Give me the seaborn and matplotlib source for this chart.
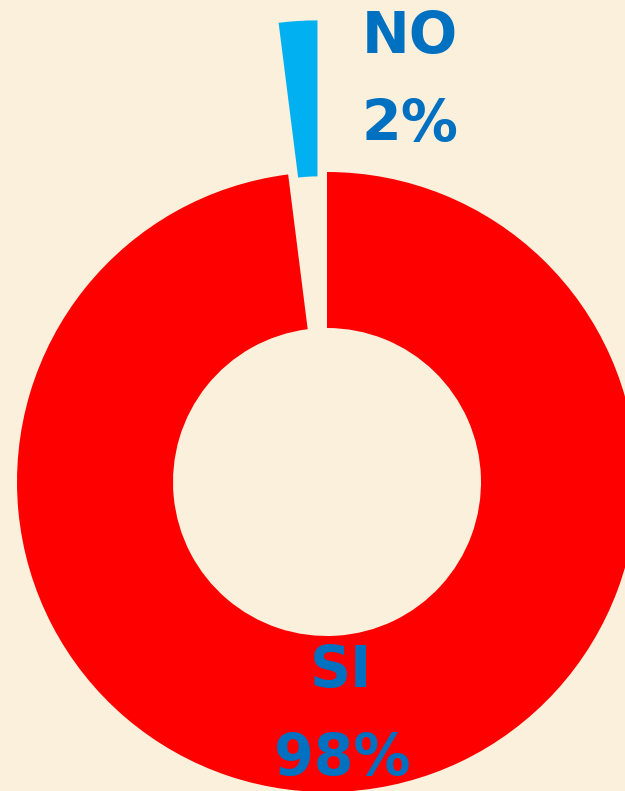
import matplotlib
matplotlib.use("Agg")
import matplotlib.pyplot as plt
import seaborn as sns

# data
labels = ["SI", "NO"]
values = [98, 2]
colors = ["#FF0000", "#00B0F0"]

sns.set_theme(style="white")
plt.rcParams["font.family"] = ["DejaVu Sans"]

W, H = 625, 791
fig = plt.figure(figsize=(W / 100, H / 100), dpi=100)
fig.patch.set_facecolor("#FAF0DC")
ax = fig.add_axes([0, 0, 1, 1])
ax.set_facecolor("#FAF0DC")

# pixel coordinates, y measured from the bottom
cx, cy = 327, H - 482
R = 310
# matplotlib takes explode in data units, so pull NO out by ~half a radius
explode = [0, 0.49 * R]
ax.pie(values, colors=colors, explode=explode, startangle=90, counterclock=False,
       center=(cx, cy), radius=R, wedgeprops=dict(width=156, linewidth=0))

ax.set_xlim(0, W)
ax.set_ylim(0, H)
ax.set_aspect("equal")
ax.axis("off")

txt = dict(color="#0070C0", fontsize=41, fontweight="bold", ha="center", va="center")
ax.text(410, H - 37, labels[1], **txt)
ax.text(410, H - 125, f"{values[1]}%", **txt)
ax.text(341, H - 672, labels[0], **txt)
ax.text(342, H - 760, f"{values[0]}%", **txt)

fig.savefig("out.png", dpi=100, facecolor=fig.get_facecolor())
